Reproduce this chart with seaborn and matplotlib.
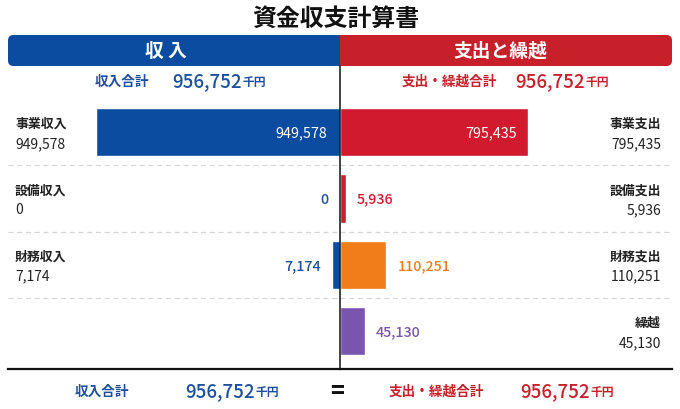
import numpy as np
import pandas as pd
import matplotlib
matplotlib.use("Agg")
import matplotlib.pyplot as plt
from matplotlib.patches import FancyBboxPatch, Rectangle
from matplotlib.lines import Line2D
import seaborn as sns

# データ
行 = ["事業", "設備", "財務", "繰越"]
収入_項目 = ["事業収入", "設備収入", "財務収入"]
収入_金額 = [949578, 0, 7174]
支出_項目 = ["事業支出", "設備支出", "財務支出", "繰越"]
支出_金額 = [795435, 5936, 110251, 45130]
合計 = 956752

青 = "#0c4ca0"
色_支出 = ["#d11a2e", "#d11a2e", "#f07d19", "#7b54ad"]
文字青 = "#1c4f9c"
文字赤 = "#c8202a"
文字黒 = "#222222"

sns.set_theme(style="white")
plt.rcParams["font.family"] = ["Noto Sans CJK JP", "DejaVu Sans"]

W, H = 680, 410
fig = plt.figure(figsize=(6.8, 4.1), dpi=100)


def fx(x):
    return x / W


def fy(y):
    return 1 - y / H


# 棒グラフの領域（上100px〜下370px）
top, bottom = 100, 370
ax_l = fig.add_axes([fx(8), fy(bottom), fx(340 - 8), (bottom - top) / H])
ax_r = fig.add_axes([fx(340), fy(bottom), fx(672 - 340), (bottom - top) / H])

df_in = pd.DataFrame({"行": 行[:3], "金額": 収入_金額})
df_out = pd.DataFrame({"行": 行, "金額": 支出_金額})

sns.barplot(data=df_in, x="金額", y="行", order=行, color=青,
            width=0.73, saturation=1, ax=ax_l)
sns.barplot(data=df_out, x="金額", y="行", order=行, hue="行",
            palette=dict(zip(行, 色_支出)), width=0.73, saturation=1,
            legend=False, ax=ax_r)

# べき乗スケール（小さい値も見えるように）
p = 0.71
fwd = lambda v: np.sign(v) * np.abs(v) ** p
inv = lambda v: np.sign(v) * np.abs(v) ** (1 / p)
for ax, vals, frac in [(ax_l, 収入_金額, 0.735), (ax_r, 支出_金額, 0.566)]:
    ax.set_xscale("function", functions=(fwd, inv))
    ax.set_xlim(0, (max(vals) ** p / frac) ** (1 / p))
    ax.set_ylim(3.57, -0.5)
    ax.set_xlabel("")
    ax.set_ylabel("")
    ax.set_xticks([])
    ax.set_yticks([])
    ax.set_facecolor("none")
    for s in ["top", "left", "right"]:
        ax.spines[s].set_visible(False)
    ax.spines["bottom"].set_color("#111111")
    ax.spines["bottom"].set_linewidth(1.6)
    for yy in [0.5, 1.5, 2.5]:
        ax.axhline(yy, color="#d6d6d6", lw=0.9, ls=(0, (4, 3)), zorder=0)
ax_l.invert_xaxis()

# 棒の数値ラベル
for i, v in enumerate(収入_金額):
    if v > 0.5 * max(収入_金額):
        ax_l.annotate(f"{v:,}", (0, i), xytext=(-9, 0), textcoords="offset points",
                      ha="right", va="center", color="white", fontsize=10.3)
    else:
        ax_l.annotate(f"{v:,}", (v, i), xytext=(-8, 0), textcoords="offset points",
                      ha="right", va="center", color=文字青, fontsize=10.3,
                      fontweight="medium")
for i, v in enumerate(支出_金額):
    if v > 0.5 * max(支出_金額):
        ax_r.annotate(f"{v:,}", (v, i), xytext=(-8, 0), textcoords="offset points",
                      ha="right", va="center", color="white", fontsize=10.3)
    else:
        ax_r.annotate(f"{v:,}", (v, i), xytext=(8, 0), textcoords="offset points",
                      ha="left", va="center", color=色_支出[i], fontsize=10.3,
                      fontweight="medium")

# 左右の項目ラベル
for i, (name, v) in enumerate(zip(収入_項目, 収入_金額)):
    ax_l.text(7 / 332, 1 - (33 + 66.3 * i - 9) / 270, name,
              transform=ax_l.transAxes, ha="left", va="center", fontsize=9.3,
              fontweight="bold", color=文字黒)
    ax_l.text(7 / 332, 1 - (33 + 66.3 * i + 11) / 270, f"{v:,}",
              transform=ax_l.transAxes, ha="left", va="center", fontsize=10,
              color=文字黒)
for i, (name, v) in enumerate(zip(支出_項目, 支出_金額)):
    ax_r.text(1 - 11 / 332, 1 - (33 + 66.3 * i - 9) / 270, name,
              transform=ax_r.transAxes, ha="right", va="center", fontsize=9.3,
              fontweight="bold", color=文字黒)
    ax_r.text(1 - 11 / 332, 1 - (33 + 66.3 * i + 11) / 270, f"{v:,}",
              transform=ax_r.transAxes, ha="right", va="center", fontsize=10,
              color=文字黒)

# タイトル
fig.text(fx(336), fy(19), "資金収支計算書", ha="center", va="center",
         fontsize=17.2, fontweight="bold", color="#111111")

# ヘッダー帯
hy0, hy1 = 36, 67
def 帯(x0, x1, c, sq_x):
    fig.patches.append(FancyBboxPatch((fx(x0), fy(hy1)), fx(x1 - x0), (hy1 - hy0) / H,
                                      boxstyle="round,pad=0,rounding_size=0.008",
                                      transform=fig.transFigure, fc=c, ec="none",
                                      mutation_aspect=W / H))
    fig.patches.append(Rectangle((fx(sq_x), fy(hy1)), fx(12), (hy1 - hy0) / H,
                                 transform=fig.transFigure, fc=c, ec="none"))
帯(8, 340, 青, 328)
帯(340, 672, "#c8202a", 340)
fig.text(fx(166), fy(51.5), "収 入", ha="center", va="center", fontsize=13.5,
         fontweight="bold", color="white")
fig.text(fx(500), fy(51.5), "支出と繰越", ha="center", va="center", fontsize=13.5,
         fontweight="bold", color="white")

# 中央線
fig.lines.append(Line2D([fx(340), fx(340)], [fy(67), fy(370)], color="#111111",
                        lw=1.1, transform=fig.transFigure))


def 合計行(x, y, label, color, gap):
    fig.text(fx(x), fy(y), label, ha="left", va="center", fontsize=9.8,
             fontweight="bold", color=color)
    t2 = fig.text(fx(x + gap), fy(y), f"{合計:,}", ha="left", va="center",
                  fontsize=13.5, fontweight="medium", color=color)
    fig.canvas.draw()
    bb = t2.get_window_extent()
    fig.text(bb.x1 / W + 0.001, fy(y + 1), "千円", ha="left", va="center",
             fontsize=8.5, fontweight="bold", color=color)


# 上の合計
合計行(95, 82, "収入合計", 文字青, 77)
合計行(402, 82, "支出・繰越合計", 文字赤, 113)

# 下の合計
合計行(75, 392, "収入合計", 文字青, 110)
fig.text(fx(337), fy(392), "=", ha="center", va="center", fontsize=17,
         fontweight="bold", color="#111111")
合計行(389, 392, "支出・繰越合計", 文字赤, 131)

fig.savefig("out.png", dpi=100, facecolor="white")
